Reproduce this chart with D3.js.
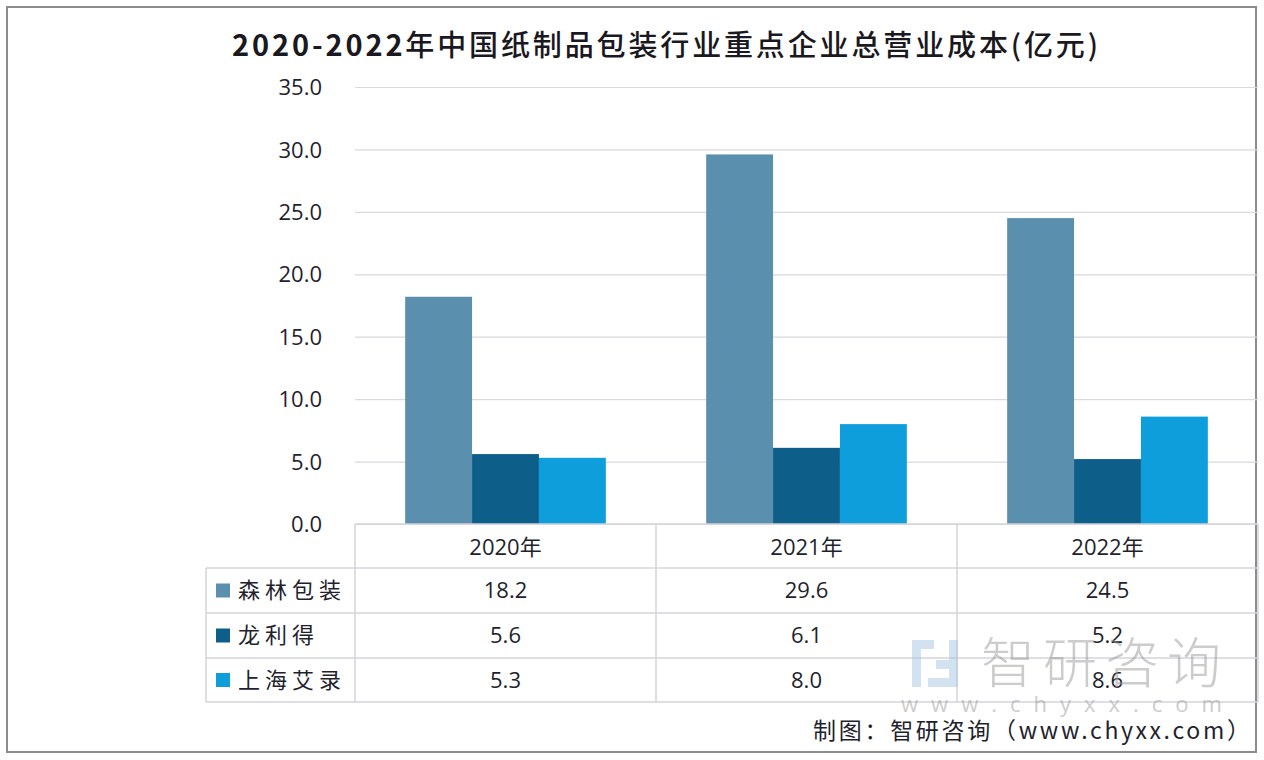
<!DOCTYPE html>
<html><head><meta charset="utf-8">
<script src="https://cdn.jsdelivr.net/npm/d3@7"></script>
<style>
html,body{margin:0;padding:0;background:#fff;}
svg{display:block;}
</style>
</head><body>
<svg id="c" width="1264" height="760"></svg>
<script>
const titleYears = "2020-2022";
const titleRest = "年中国纸制品包装行业重点企业总营业成本(亿元)";
const categories = ["2020年", "2021年", "2022年"];
const seriesNames = ["森林包装", "龙利得", "上海艾录"];
const senlin = [18.2, 29.6, 24.5];
const longlide = [5.6, 6.1, 5.2];
const aila = [5.3, 8.0, 8.6];
const seriesValues = [senlin, longlide, aila];
const colors = ["#5a8fae", "#0d5f8a", "#0d9edb"];
const yTicks = [0, 5, 10, 15, 20, 25, 30, 35];
const footer = "制图：智研咨询（www.chyxx.com）";

const svg = d3.select("#c");
const latin = "'Open Sans','Noto Sans','Noto Sans CJK SC',sans-serif";
const cjk = "'Noto Sans CJK SC','Noto Sans',sans-serif";
const textColor = "#231f2e";

// outer border
svg.append("rect").attr("x", 7).attr("y", 7).attr("width", 1249).attr("height", 745)
  .attr("fill", "#fff").attr("stroke", "#8c8c8c").attr("stroke-width", 2);

// title
const t = svg.append("text").attr("x", 665).attr("y", 56).attr("text-anchor", "middle")
  .attr("font-family", cjk).attr("font-size", 29).attr("fill", "#1a1820");
t.append("tspan").attr("font-weight", "bold").text(titleYears);
t.append("tspan").attr("font-weight", 500).text(titleRest);
t.attr("textLength", 866).attr("lengthAdjust", "spacing");

const x0 = 355, x1 = 1258;
const y = d3.scaleLinear().domain([0, 35]).range([524, 87]);
const xb = d3.scaleBand().domain(categories).range([x0, x1]).paddingInner(0).paddingOuter(0);
const xs = d3.scaleBand().domain(d3.range(seriesNames.length)).range([0, xb.bandwidth()]).paddingOuter(0.75).paddingInner(0);

// gridlines
const grid = d3.axisLeft(y).tickValues(yTicks).tickSize(-(x1 - x0)).tickFormat("");
const gg = svg.append("g").attr("transform", `translate(${x0},0)`).call(grid);
gg.select(".domain").remove();
gg.selectAll("line").attr("stroke", "#d9d9de").attr("stroke-width", 1.2);

// y labels
const ya = d3.axisLeft(y).tickValues(yTicks).tickSize(0).tickPadding(0).tickFormat(d3.format(".1f"));
const yg = svg.append("g").attr("transform", "translate(322,0)").call(ya);
yg.select(".domain").remove();
yg.selectAll("text").attr("font-family", latin).attr("font-size", 22).attr("fill", textColor).attr("dy", "0.35em");

// bars
seriesValues.forEach((vals, si) => {
  svg.append("g").selectAll("rect").data(vals).enter().append("rect")
    .attr("x", (d, i) => xb(categories[i]) + xs(si))
    .attr("width", xs.bandwidth())
    .attr("y", d => y(d))
    .attr("height", d => y(0) - y(d))
    .attr("fill", colors[si]);
});

// data table
const rowY = [524, 568, 613, 658, 702];
const legendLeft = 206;
const lc = "#d3d3da";
const tbl = svg.append("g");
tbl.append("line").attr("x1", x0).attr("x2", x1).attr("y1", rowY[0]).attr("y2", rowY[0]).attr("stroke", lc).attr("stroke-width", 1.5);
rowY.slice(1).forEach(yy => {
  tbl.append("line").attr("x1", legendLeft).attr("x2", x1).attr("y1", yy).attr("y2", yy).attr("stroke", lc).attr("stroke-width", 1.5);
});
const colEdges = categories.map(c => xb(c)).concat([x1]);
colEdges.forEach(xx => {
  tbl.append("line").attr("x1", xx).attr("x2", xx).attr("y1", rowY[0]).attr("y2", rowY[4]).attr("stroke", lc).attr("stroke-width", 1.5);
});
tbl.append("line").attr("x1", legendLeft).attr("x2", legendLeft).attr("y1", rowY[1]).attr("y2", rowY[4]).attr("stroke", lc).attr("stroke-width", 1.5);

tbl.selectAll("text.hdr").data(categories).enter().append("text")
  .attr("x", d => xb(d) + xb.bandwidth() / 2).attr("y", (rowY[0] + rowY[1]) / 2 + 1)
  .attr("dy", "0.35em").attr("text-anchor", "middle")
  .attr("font-family", latin).attr("font-size", 22).attr("fill", textColor).text(d => d);

seriesNames.forEach((name, si) => {
  const cy = (rowY[si + 1] + rowY[si + 2]) / 2;
  tbl.append("rect").attr("x", 216).attr("y", cy - 7).attr("width", 14).attr("height", 14).attr("fill", colors[si]);
  tbl.append("text").attr("x", 238).attr("y", cy).attr("dy", "0.36em")
    .attr("font-family", cjk).attr("font-size", 22).attr("letter-spacing", 5).attr("fill", textColor).text(name);
  tbl.selectAll(null).data(seriesValues[si]).enter().append("text")
    .attr("x", (d, i) => xb(categories[i]) + xb.bandwidth() / 2).attr("y", cy)
    .attr("dy", "0.36em").attr("text-anchor", "middle")
    .attr("font-family", latin).attr("font-size", 22).attr("fill", textColor)
    .text(d => d3.format(".1f")(d));
});

// watermark
const wm = svg.append("g").attr("opacity", 0.5);
wm.append("rect").attr("x", 912).attr("y", 640).attr("width", 22).attr("height", 9).attr("fill", "#a9c6e3");
wm.append("rect").attr("x", 912).attr("y", 649).attr("width", 9).attr("height", 38).attr("fill", "#a9c6e3");
wm.append("rect").attr("x", 936).attr("y", 660).attr("width", 22).attr("height", 9).attr("fill", "#a9c6e3");
wm.append("rect").attr("x", 949).attr("y", 640).attr("width", 9).attr("height", 47).attr("fill", "#a9c6e3");
wm.append("rect").attr("x", 928).attr("y", 678).attr("width", 30).attr("height", 9).attr("fill", "#a9c6e3");
wm.append("text").attr("x", 1105).attr("y", 683).attr("text-anchor", "middle")
  .attr("font-family", cjk).attr("font-size", 54).attr("font-weight", 300).attr("fill", "#9a9a9a")
  .attr("letter-spacing", 8).text("智研咨询");
wm.append("text").attr("x", 1068).attr("y", 712).attr("text-anchor", "middle")
  .attr("font-family", latin).attr("font-size", 22).attr("fill", "#9a9a9a")
  .attr("letter-spacing", 13).text("www.chyxx.com");

// footer
svg.append("text").attr("x", 813).attr("y", 739)
  .attr("font-family", cjk).attr("font-size", 23).attr("fill", textColor)
  .attr("textLength", 437).attr("lengthAdjust", "spacing").text(footer);
</script>
</body></html>
